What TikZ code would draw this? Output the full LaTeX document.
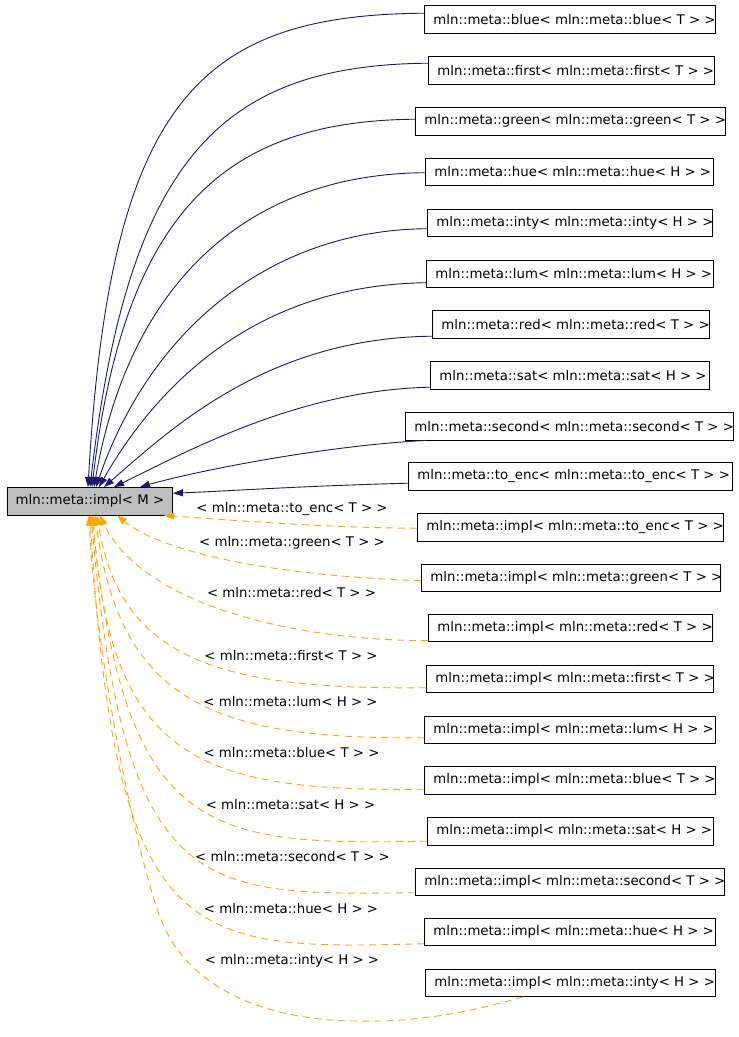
\documentclass[tikz,border=0pt]{standalone}
\usepackage{fontspec}
\setmainfont{DejaVu Sans}
\usetikzlibrary{arrows.meta,calc}
\definecolor{edgeblue}{HTML}{191970}
\definecolor{edgeorange}{HTML}{FFA500}
\definecolor{maingray}{HTML}{BFBFBF}
\tikzset{
  cls/.style={draw=black, line width=0.9pt, inner sep=0pt, minimum height=27.5pt, anchor=north west, font=\fontsize{13.3}{16}\selectfont},
  mainbox/.style={cls, fill=maingray},
  inherit/.style={draw=edgeblue, line width=0.9pt, -{Triangle[length=10pt,width=7pt]}},
  tmpl/.style={draw=edgeorange, line width=0.9pt, dash pattern=on 7pt off 5pt, -{Triangle[length=10pt,width=7pt]}},
  lbl/.style={inner sep=0pt, font=\fontsize{13.3}{16}\selectfont},
}
\newcommand\clsbox[6]{\node[cls, minimum width=#4pt] (#1) at (#2,#3) {\makebox[#5pt][l]{#6}};}
\begin{document}
\begin{tikzpicture}[x=1pt,y=-1pt]
\useasboundingbox (0,0) rectangle (739,1037);
% base class
\node[mainbox, minimum width=165pt] (m) at (7,487) {mln::meta::impl< M >};
% derived classes
\clsbox{b1}{424}{5}{291}{273}{mln::meta::blue< mln::meta::blue< T > >}
\clsbox{b2}{428}{56}{286}{268}{mln::meta::first< mln::meta::first< T > >}
\clsbox{b3}{415}{107}{310}{292}{mln::meta::green< mln::meta::green< T > >}
\clsbox{b4}{425}{157.5}{288}{270}{mln::meta::hue< mln::meta::hue< H > >}
\clsbox{b5}{427}{208.5}{285}{267}{mln::meta::inty< mln::meta::inty< H > >}
\clsbox{b6}{426}{259.5}{287}{269}{mln::meta::lum< mln::meta::lum< H > >}
\clsbox{b7}{432}{310}{277}{259}{mln::meta::red< mln::meta::red< T > >}
\clsbox{b8}{430}{361}{279}{261}{mln::meta::sat< mln::meta::sat< H > >}
\clsbox{b9}{405}{412}{328}{310}{mln::meta::second< mln::meta::second< T > >}
\clsbox{b10}{408}{462}{324}{306}{mln::meta::to\_enc< mln::meta::to\_enc< T > >}
\clsbox{o1}{417}{513}{306}{288}{mln::meta::impl< mln::meta::to\_enc< T > >}
\clsbox{o2}{421}{563.5}{299}{281}{mln::meta::impl< mln::meta::green< T > >}
\clsbox{o3}{428}{613.5}{284}{266}{mln::meta::impl< mln::meta::red< T > >}
\clsbox{o4}{426}{664.5}{287}{269}{mln::meta::impl< mln::meta::first< T > >}
\clsbox{o5}{424}{715.5}{291}{273}{mln::meta::impl< mln::meta::lum< H > >}
\clsbox{o6}{424}{766}{291}{273}{mln::meta::impl< mln::meta::blue< T > >}
\clsbox{o7}{427}{817}{286}{268}{mln::meta::impl< mln::meta::sat< H > >}
\clsbox{o8}{415}{867.5}{309}{291}{mln::meta::impl< mln::meta::second< T > >}
\clsbox{o9}{424}{917.5}{291}{273}{mln::meta::impl< mln::meta::hue< H > >}
\clsbox{o10}{425}{968.5}{290}{272}{mln::meta::impl< mln::meta::inty< H > >}
% inheritance edges
\draw[inherit] ($(b1.west)+(0,-6)$) .. controls (200,15) and (110,100) .. ($(m.north west)+(81,0)$);
\draw[inherit] ($(b2.west)+(0,-7)$) .. controls (220,65) and (128,160) .. ($(m.north west)+(83,0)$);
\draw[inherit] ($(b3.west)+(0,-2)$) .. controls (230,121) and (125,205) .. ($(m.north west)+(85,0)$);
\draw[inherit] ($(b4.west)+(0,1)$) .. controls (250,174) and (130,280) .. ($(m.north west)+(87,0)$);
\draw[inherit] ($(b5.west)+(0,6)$) .. controls (270,230) and (150,330) .. ($(m.north west)+(89,0)$);
\draw[inherit] ($(b6.west)+(0,9)$) .. controls (260,285) and (160,380) .. ($(m.north west)+(92,0)$);
\draw[inherit] ($(b7.west)+(0,12)$) .. controls (270,338) and (175,425) .. ($(m.north west)+(97,0)$);
\draw[inherit] ($(b8.west)+(0,12)$) .. controls (300,390) and (190,450) .. ($(m.north west)+(107,0)$);
\draw[inherit] ($(b9.south west)+(22,0)$) .. controls (330,445) and (200,470) .. ($(m.north west)+(133,0)$);
\draw[inherit] ($(b10.west)+(0,7)$) .. controls (300,486) and (230,491) .. ($(m.east)+(0,-8)$);
% template instance edges
\draw[tmpl] ($(o1.west)+(0,1)$) .. controls (330,528) and (230,520) .. ($(m.south west)+(157,0)$);
\draw[tmpl] ($(o2.west)+(0,3)$) .. controls (260,575) and (160,550) .. ($(m.south west)+(110,0)$);
\draw[tmpl] ($(o3.west)+(0,13)$) .. controls (280,640) and (140,600) .. ($(m.south west)+(93,0)$);
\draw[tmpl] ($(o4.west)+(0,9)$) .. controls (220,690) and (120,660) .. ($(m.south west)+(90,0)$);
\draw[tmpl] ($(o5.west)+(0,8)$) .. controls (210,740) and (120,700) .. ($(m.south west)+(88,0)$);
\draw[tmpl] ($(o6.west)+(0,9)$) .. controls (200,792) and (110,760) .. ($(m.south west)+(86,0)$);
\draw[tmpl] ($(o7.west)+(0,10)$) .. controls (210,845) and (125,840) .. ($(m.south west)+(85,0)$);
\draw[tmpl] ($(o8.west)+(0,11)$) .. controls (200,895) and (125,900) .. ($(m.south west)+(84,0)$);
\draw[tmpl] ($(o9.west)+(0,12)$) .. controls (190,950) and (115,950) .. ($(m.south west)+(83,0)$);
\draw[tmpl] ($(o10.south west)+(98,0)$) .. controls (450,1018) and (400,1022) .. (355,1021)
  .. controls (260,1020) and (185,985) .. (160,917)
  .. controls (135,850) and (95,650) .. ($(m.south west)+(82,0)$);
% edge labels
\node[lbl] (l1) at (292,509) {< mln::meta::to\_enc< T > >};
\node[lbl] (l2) at (292,543) {< mln::meta::green< T > >};
\node[lbl] (l3) at (291.5,593) {< mln::meta::red< T > >};
\node[lbl] (l4) at (291,656) {< mln::meta::first< T > >};
\node[lbl] (l5) at (290.5,702) {< mln::meta::lum< H > >};
\node[lbl] (l6) at (291.5,753) {< mln::meta::blue< T > >};
\node[lbl] (l7) at (290.5,805) {< mln::meta::sat< H > >};
\node[lbl] (l8) at (292.5,857) {< mln::meta::second< T > >};
\node[lbl] (l9) at (291,909) {< mln::meta::hue< H > >};
\node[lbl] (l10) at (292,961) {< mln::meta::inty< H > >};
\end{tikzpicture}
\end{document}
